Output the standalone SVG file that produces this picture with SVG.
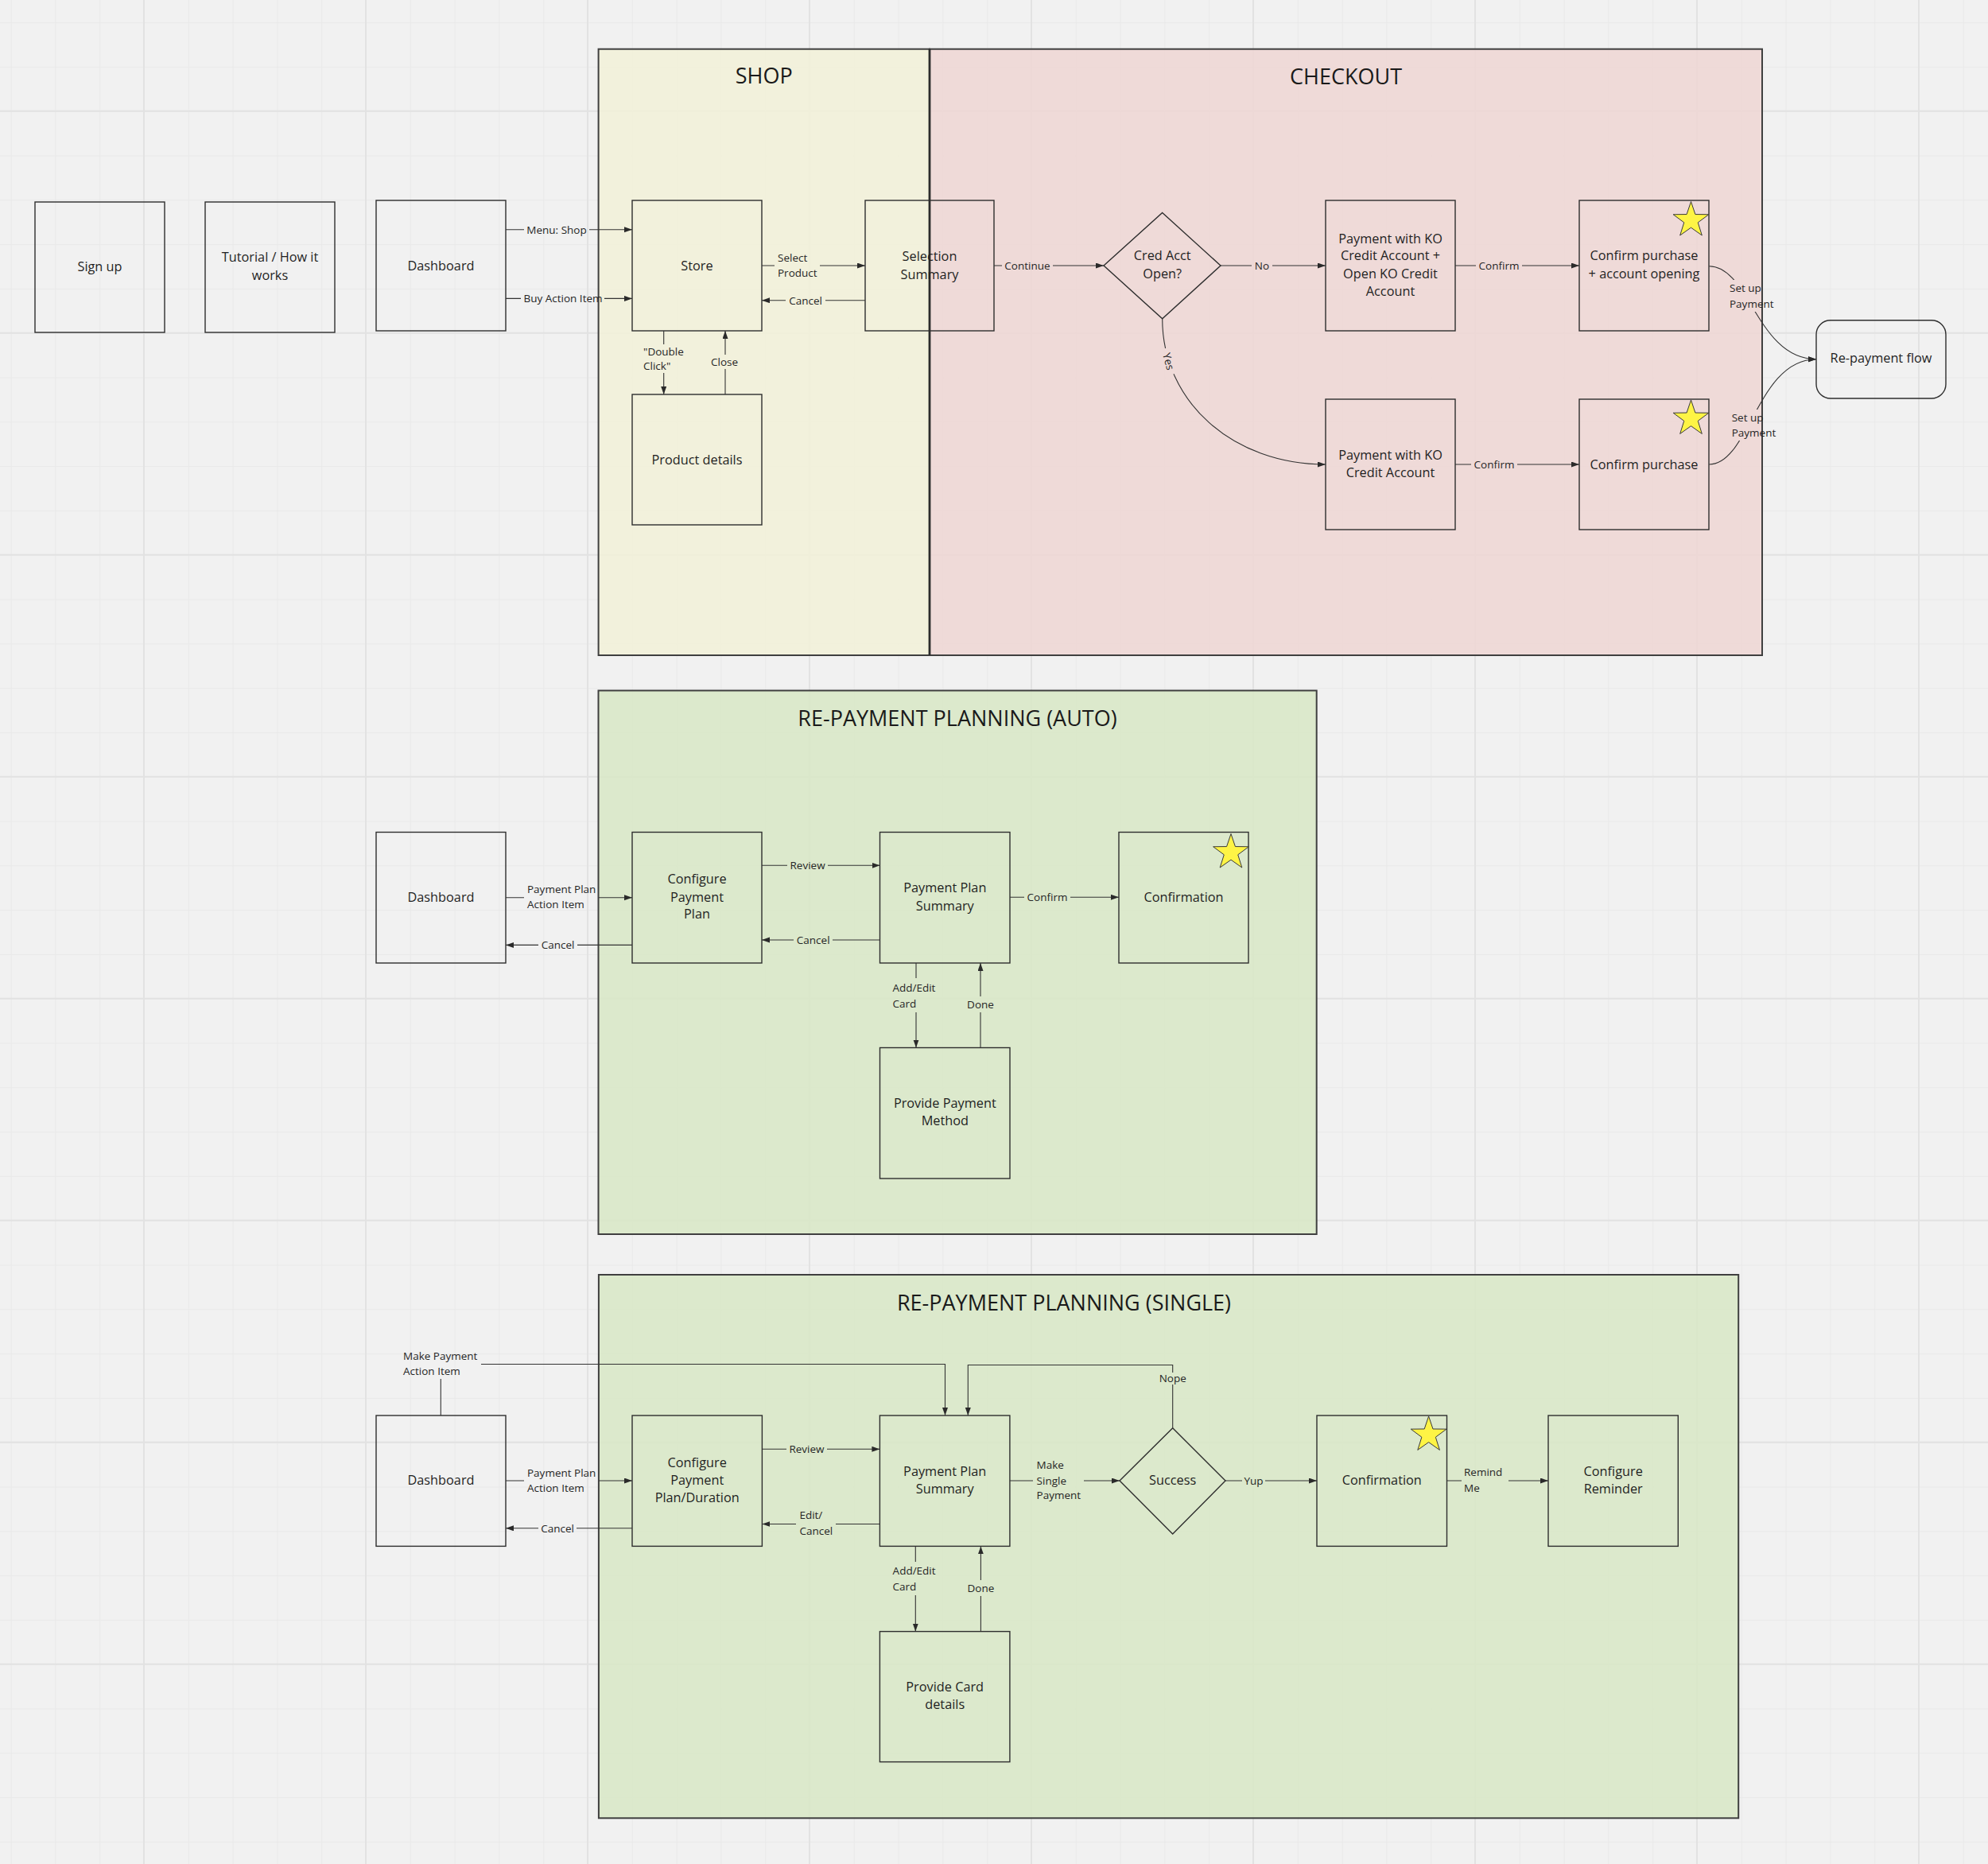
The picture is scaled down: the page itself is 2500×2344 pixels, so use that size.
<svg xmlns="http://www.w3.org/2000/svg" xmlns:xlink="http://www.w3.org/1999/xlink" width="2500" height="2344" viewBox="0 0 2500 2344">
<style>
.nt{font-family:"Open Sans","Liberation Sans",sans-serif;font-size:16.3px;fill:#1f1f1f;text-anchor:middle}
.lb{font-family:"Open Sans","Liberation Sans",sans-serif;font-size:13.5px;fill:#262626}
.lc{text-anchor:middle}
.tt{font-family:"Open Sans","Liberation Sans",sans-serif;font-size:27px;fill:#1a1a1a;text-anchor:middle}
.node{fill:none;stroke:#2e2e2e;stroke-width:1.4}
.panel{stroke:#3f3f3f;stroke-width:2}
.cn path{fill:none;stroke:#333;stroke-width:1.1;marker-end:url(#arr)}
.star{fill:#fef445;stroke:#3a3a3a;stroke-width:1}
</style>
<defs>
<pattern id="gMinor" x="13.6" y="28.1" width="55.8" height="55.8" patternUnits="userSpaceOnUse">
<path d="M0,0.5 H55.8 M0.5,0 V55.8" stroke="#e9e9e9" stroke-width="1" fill="none"/>
</pattern>
<pattern id="gMajor" x="180" y="138.7" width="279" height="279" patternUnits="userSpaceOnUse">
<path d="M0,1 H279 M1,0 V279" stroke="#e2e2e2" stroke-width="2" fill="none"/>
</pattern>
<marker id="arr" markerUnits="userSpaceOnUse" markerWidth="10" markerHeight="8" refX="10" refY="3.5" orient="auto">
<path d="M0,0 L10,3.5 L0,7 z" fill="#2a2a2a"/>
</marker>
<polygon id="starShape" points="0,-23.5 5.41,-7.44 22.35,-7.26 8.75,2.84 13.81,19.01 0,9.2 -13.81,19.01 -8.75,2.84 -22.35,-7.26 -5.41,-7.44"/>
<mask id="lblmask" maskUnits="userSpaceOnUse" x="0" y="0" width="2500" height="2344">
<rect width="2500" height="2344" fill="#fff"/>
<g fill="#000">
<rect x="659" y="280" width="82" height="18"/>
<rect x="655" y="366" width="105" height="19"/>
<rect x="974" y="314" width="57" height="38"/>
<rect x="988" y="369" width="50" height="18"/>
<rect x="805" y="433" width="58" height="36"/>
<rect x="893" y="446" width="36" height="18"/>
<rect x="1260" y="325" width="64" height="18"/>
<rect x="1574" y="325" width="26" height="18"/>
<rect x="1856" y="325" width="58" height="18"/>
<rect x="-17" y="-9" width="34" height="18" transform="translate(1469.5,454.5) rotate(75)"/>
<rect x="1850" y="575" width="58" height="18"/>
<rect x="2171" y="352" width="63" height="40"/>
<rect x="2174" y="515" width="63" height="39"/>
<rect x="659" y="1107" width="94" height="41"/>
<rect x="677" y="1180" width="49" height="17"/>
<rect x="990" y="1080" width="51" height="17"/>
<rect x="998" y="1173" width="49" height="18"/>
<rect x="1288" y="1120" width="58" height="17"/>
<rect x="1118" y="1230" width="62" height="43"/>
<rect x="1214" y="1253" width="38" height="20"/>
<rect x="659" y="1841" width="94" height="40"/>
<rect x="677" y="1913" width="48" height="18"/>
<rect x="989" y="1814" width="51" height="17"/>
<rect x="1001" y="1895" width="50" height="40"/>
<rect x="1299" y="1831" width="64" height="60"/>
<rect x="1562" y="1853" width="29" height="18"/>
<rect x="1838" y="1841" width="59" height="40"/>
<rect x="1118" y="1964" width="62" height="42"/>
<rect x="1214" y="1987" width="39" height="20"/>
<rect x="503" y="1695" width="102" height="39"/>
<rect x="1457" y="1726" width="36" height="15"/>
</g>
</mask>
</defs>

<!-- canvas -->
<rect width="2500" height="2344" fill="#f1f1f1"/>
<rect width="2500" height="2344" fill="url(#gMinor)"/>
<rect width="2500" height="2344" fill="url(#gMajor)"/>

<!-- panels -->
<g id="panel-shop">
<rect class="panel" x="752.6" y="61.7" width="416.4" height="762.3" fill="rgb(242,241,216)" fill-opacity="0.85"/>
<text class="tt" x="960.8" y="105.2">SHOP</text>
</g>
<g id="panel-checkout">
<rect class="panel" x="1169" y="61.7" width="1047" height="762.3" fill="rgb(238,214,212)" fill-opacity="0.85"/>
<line x1="1169" y1="61.7" x2="1169" y2="824" stroke="#2c2c2c" stroke-width="2.8"/>
<text class="tt" x="1692.5" y="106.2">CHECKOUT</text>
</g>
<g id="panel-auto">
<rect class="panel" x="752.5" y="868.4" width="903.2" height="683.6" fill="rgb(216,231,197)" fill-opacity="0.85"/>
<text class="tt" x="1204" y="912.5">RE-PAYMENT PLANNING (AUTO)</text>
</g>
<g id="panel-single">
<rect class="panel" x="752.9" y="1603" width="1433.3" height="683.3" fill="rgb(216,231,197)" fill-opacity="0.85"/>
<text class="tt" x="1338" y="1647.7">RE-PAYMENT PLANNING (SINGLE)</text>
</g>

<!-- row 1 nodes -->
<g id="n-signup"><rect class="node" x="44" y="254" width="163" height="164"/><text class="nt" x="125.5" y="341">Sign up</text></g>
<g id="n-tutorial"><rect class="node" x="258" y="254" width="163" height="164"/><text class="nt"><tspan x="339.5" y="328.7">Tutorial / How it</tspan><tspan x="339.5" y="351.9">works</tspan></text></g>
<g id="n-dashboard1"><rect class="node" x="473" y="252" width="163" height="164"/><text class="nt" x="554.5" y="339.9">Dashboard</text></g>
<g id="n-store"><rect class="node" x="795" y="252" width="163" height="164"/><text class="nt" x="876.5" y="339.9">Store</text></g>
<g id="n-selection"><rect class="node" x="1088" y="252" width="162" height="164"/><text class="nt"><tspan x="1169" y="327.6">Selection</tspan><tspan x="1169" y="350.9">Summary</tspan></text></g>
<g id="n-product"><rect class="node" x="795" y="496" width="163" height="164"/><text class="nt" x="876.5" y="583.9">Product details</text></g>
<g id="n-credacct"><polygon class="node" points="1461.7,267.5 1535,334 1461.7,400.7 1388,334"/><text class="nt"><tspan x="1461.7" y="327.4">Cred Acct</tspan><tspan x="1461.7" y="350.1">Open?</tspan></text></g>
<g id="n-paykoopen"><rect class="node" x="1667" y="252" width="163" height="164"/><text class="nt"><tspan x="1748.5" y="305.7">Payment with KO</tspan><tspan x="1748.5" y="327.4">Credit Account +</tspan><tspan x="1748.5" y="350.1">Open KO Credit</tspan><tspan x="1748.5" y="372.4">Account</tspan></text></g>
<g id="n-confirmopen"><rect class="node" x="1986" y="252" width="163" height="164"/><use href="#starShape" class="star" x="2126.5" y="277"/><text class="nt"><tspan x="2067.5" y="327.4">Confirm purchase</tspan><tspan x="2067.5" y="350.1">+ account opening</tspan></text></g>
<g id="n-payko"><rect class="node" x="1667" y="502" width="163" height="164"/><text class="nt"><tspan x="1748.5" y="577.9">Payment with KO</tspan><tspan x="1748.5" y="599.9">Credit Account</tspan></text></g>
<g id="n-confirm"><rect class="node" x="1986" y="502" width="163" height="164"/><use href="#starShape" class="star" x="2126.5" y="526.5"/><text class="nt" x="2067.5" y="589.7">Confirm purchase</text></g>
<g id="n-repayflow"><rect class="node" x="2284" y="402.7" width="163" height="98.3" rx="18" ry="18"/><text class="nt" x="2365.5" y="456.4">Re-payment flow</text></g>

<!-- auto nodes -->
<g id="n-dashboard2"><rect class="node" x="473" y="1046.5" width="163" height="164.5"/><text class="nt" x="554.5" y="1133.7">Dashboard</text></g>
<g id="n-configure1"><rect class="node" x="795" y="1046.5" width="163" height="164.5"/><text class="nt"><tspan x="876.5" y="1110.7">Configure</tspan><tspan x="876.5" y="1133.7">Payment</tspan><tspan x="876.5" y="1155.3">Plan</tspan></text></g>
<g id="n-summary1"><rect class="node" x="1106.5" y="1046.5" width="163.5" height="164.5"/><text class="nt"><tspan x="1188.3" y="1122.2">Payment Plan</tspan><tspan x="1188.3" y="1144.7">Summary</tspan></text></g>
<g id="n-confirmation1"><rect class="node" x="1407" y="1046.5" width="163" height="164.5"/><use href="#starShape" class="star" x="1548" y="1072"/><text class="nt" x="1488.5" y="1133.7">Confirmation</text></g>
<g id="n-paymethod"><rect class="node" x="1106.5" y="1317.5" width="163.5" height="164.5"/><text class="nt"><tspan x="1188.3" y="1393.1">Provide Payment</tspan><tspan x="1188.3" y="1415.2">Method</tspan></text></g>

<!-- single nodes -->
<g id="n-dashboard3"><rect class="node" x="473" y="1780" width="163" height="164.4"/><text class="nt" x="554.5" y="1867">Dashboard</text></g>
<g id="n-configure2"><rect class="node" x="795" y="1780" width="163.4" height="164.4"/><text class="nt"><tspan x="876.7" y="1844.5">Configure</tspan><tspan x="876.7" y="1867.1">Payment</tspan><tspan x="876.7" y="1889.2">Plan/Duration</tspan></text></g>
<g id="n-summary2"><rect class="node" x="1106.4" y="1780" width="163.5" height="164.4"/><text class="nt"><tspan x="1188.2" y="1855.6">Payment Plan</tspan><tspan x="1188.2" y="1878.2">Summary</tspan></text></g>
<g id="n-success"><polygon class="node" points="1474.7,1795.8 1541,1862 1474.7,1929 1408,1862"/><text class="nt" x="1474.7" y="1867">Success</text></g>
<g id="n-confirmation2"><rect class="node" x="1656" y="1780" width="163.5" height="164.4"/><use href="#starShape" class="star" x="1796.6" y="1804.4"/><text class="nt" x="1737.8" y="1867">Confirmation</text></g>
<g id="n-reminder"><rect class="node" x="1947" y="1780" width="163.3" height="164.4"/><text class="nt"><tspan x="2028.7" y="1855.6">Configure</tspan><tspan x="2028.7" y="1878.2">Reminder</tspan></text></g>
<g id="n-carddetails"><rect class="node" x="1106.4" y="2051.6" width="163.5" height="164"/><text class="nt"><tspan x="1188.2" y="2126.8">Provide Card</tspan><tspan x="1188.2" y="2149.4">details</tspan></text></g>

<!-- connectors -->
<g id="connectors" class="cn" mask="url(#lblmask)">
<path d="M636,288.8 H795"/>
<path d="M636,375.4 H795"/>
<path d="M958,334 H1088"/>
<path d="M1088,377.7 H958"/>
<path d="M834.7,416 V496"/>
<path d="M912,496 V416"/>
<path d="M1250,334 H1388"/>
<path d="M1535,334 H1667"/>
<path d="M1830,334 H1986"/>
<path d="M1461.7,400.7 C1461.7,505 1550,584 1667,584"/>
<path d="M1830,584 H1986"/>
<path d="M2149.3,334.7 C2200,334.7 2210,451.7 2284,451.7"/>
<path d="M2149.3,584 C2200,584 2210,451.7 2284,451.7"/>
<path d="M636,1128.7 H795"/>
<path d="M795,1188.4 H636"/>
<path d="M958,1088.3 H1106.5"/>
<path d="M1106.5,1182 H958"/>
<path d="M1270,1128.3 H1407"/>
<path d="M1152,1211 V1317.5"/>
<path d="M1233,1317.5 V1211"/>
<path d="M636,1862 H795"/>
<path d="M795,1921.8 H636"/>
<path d="M958.4,1822.3 H1106.4"/>
<path d="M1106.4,1916.5 H958.4"/>
<path d="M1270,1862 H1408"/>
<path d="M1541,1862 H1656"/>
<path d="M1819.5,1862 H1947"/>
<path d="M1151.3,1944.4 V2051.6"/>
<path d="M1233.4,2051.6 V1944.4"/>
<path d="M554.3,1780 V1715.5 H1188.5 V1780"/>
<path d="M1474.7,1795.8 V1716.5 H1217.3 V1780"/>
</g>

<!-- connector labels -->
<g id="connector-labels" class="lb">
<text class="lc" x="700" y="293.7">Menu: Shop</text>
<text class="lc" x="708" y="380.3">Buy Action Item</text>
<text><tspan x="978" y="328.6">Select</tspan><tspan x="978" y="347.8">Product</tspan></text>
<text class="lc" x="1013" y="382.6">Cancel</text>
<text><tspan x="809" y="446.9">"Double</tspan><tspan x="809" y="464.9">Click"</tspan></text>
<text class="lc" x="911" y="459.9">Close</text>
<text class="lc" x="1292" y="338.9">Continue</text>
<text class="lc" x="1587" y="338.9">No</text>
<text class="lc" x="1885" y="338.9">Confirm</text>
<text class="lc" x="0" y="4.9" transform="translate(1469.5,454.5) rotate(75)">Yes</text>
<text class="lc" x="1879" y="588.9">Confirm</text>
<text><tspan x="2175" y="367.2">Set up</tspan><tspan x="2175" y="386.6">Payment</tspan></text>
<text><tspan x="2177.7" y="529.9">Set up</tspan><tspan x="2177.7" y="548.9">Payment</tspan></text>
<text><tspan x="663" y="1122.6">Payment Plan</tspan><tspan x="663" y="1142.4">Action Item</tspan></text>
<text class="lc" x="701.5" y="1193.3">Cancel</text>
<text class="lc" x="1015.6" y="1093.2">Review</text>
<text class="lc" x="1022.7" y="1186.9">Cancel</text>
<text class="lc" x="1317" y="1133.2">Confirm</text>
<text><tspan x="1122.4" y="1246.6">Add/Edit</tspan><tspan x="1122.4" y="1266.9">Card</tspan></text>
<text class="lc" x="1233" y="1267.9">Done</text>
<text><tspan x="663" y="1856.5">Payment Plan</tspan><tspan x="663" y="1875.7">Action Item</tspan></text>
<text class="lc" x="701" y="1926.7">Cancel</text>
<text class="lc" x="1014.5" y="1827.2">Review</text>
<text><tspan x="1005.4" y="1910.4">Edit/</tspan><tspan x="1005.4" y="1929.9">Cancel</tspan></text>
<text><tspan x="1303.6" y="1846.9">Make</tspan><tspan x="1303.6" y="1866.6">Single</tspan><tspan x="1303.6" y="1885.3">Payment</tspan></text>
<text class="lc" x="1576.5" y="1866.9">Yup</text>
<text><tspan x="1841" y="1855.9">Remind</tspan><tspan x="1841" y="1875.7">Me</tspan></text>
<text><tspan x="1122.6" y="1979.9">Add/Edit</tspan><tspan x="1122.6" y="1999.9">Card</tspan></text>
<text class="lc" x="1233.4" y="2001.7">Done</text>
<text><tspan x="507" y="1710.3">Make Payment</tspan><tspan x="507" y="1728.9">Action Item</tspan></text>
<text class="lc" x="1474.7" y="1738.2">Nope</text>
</g>
</svg>
